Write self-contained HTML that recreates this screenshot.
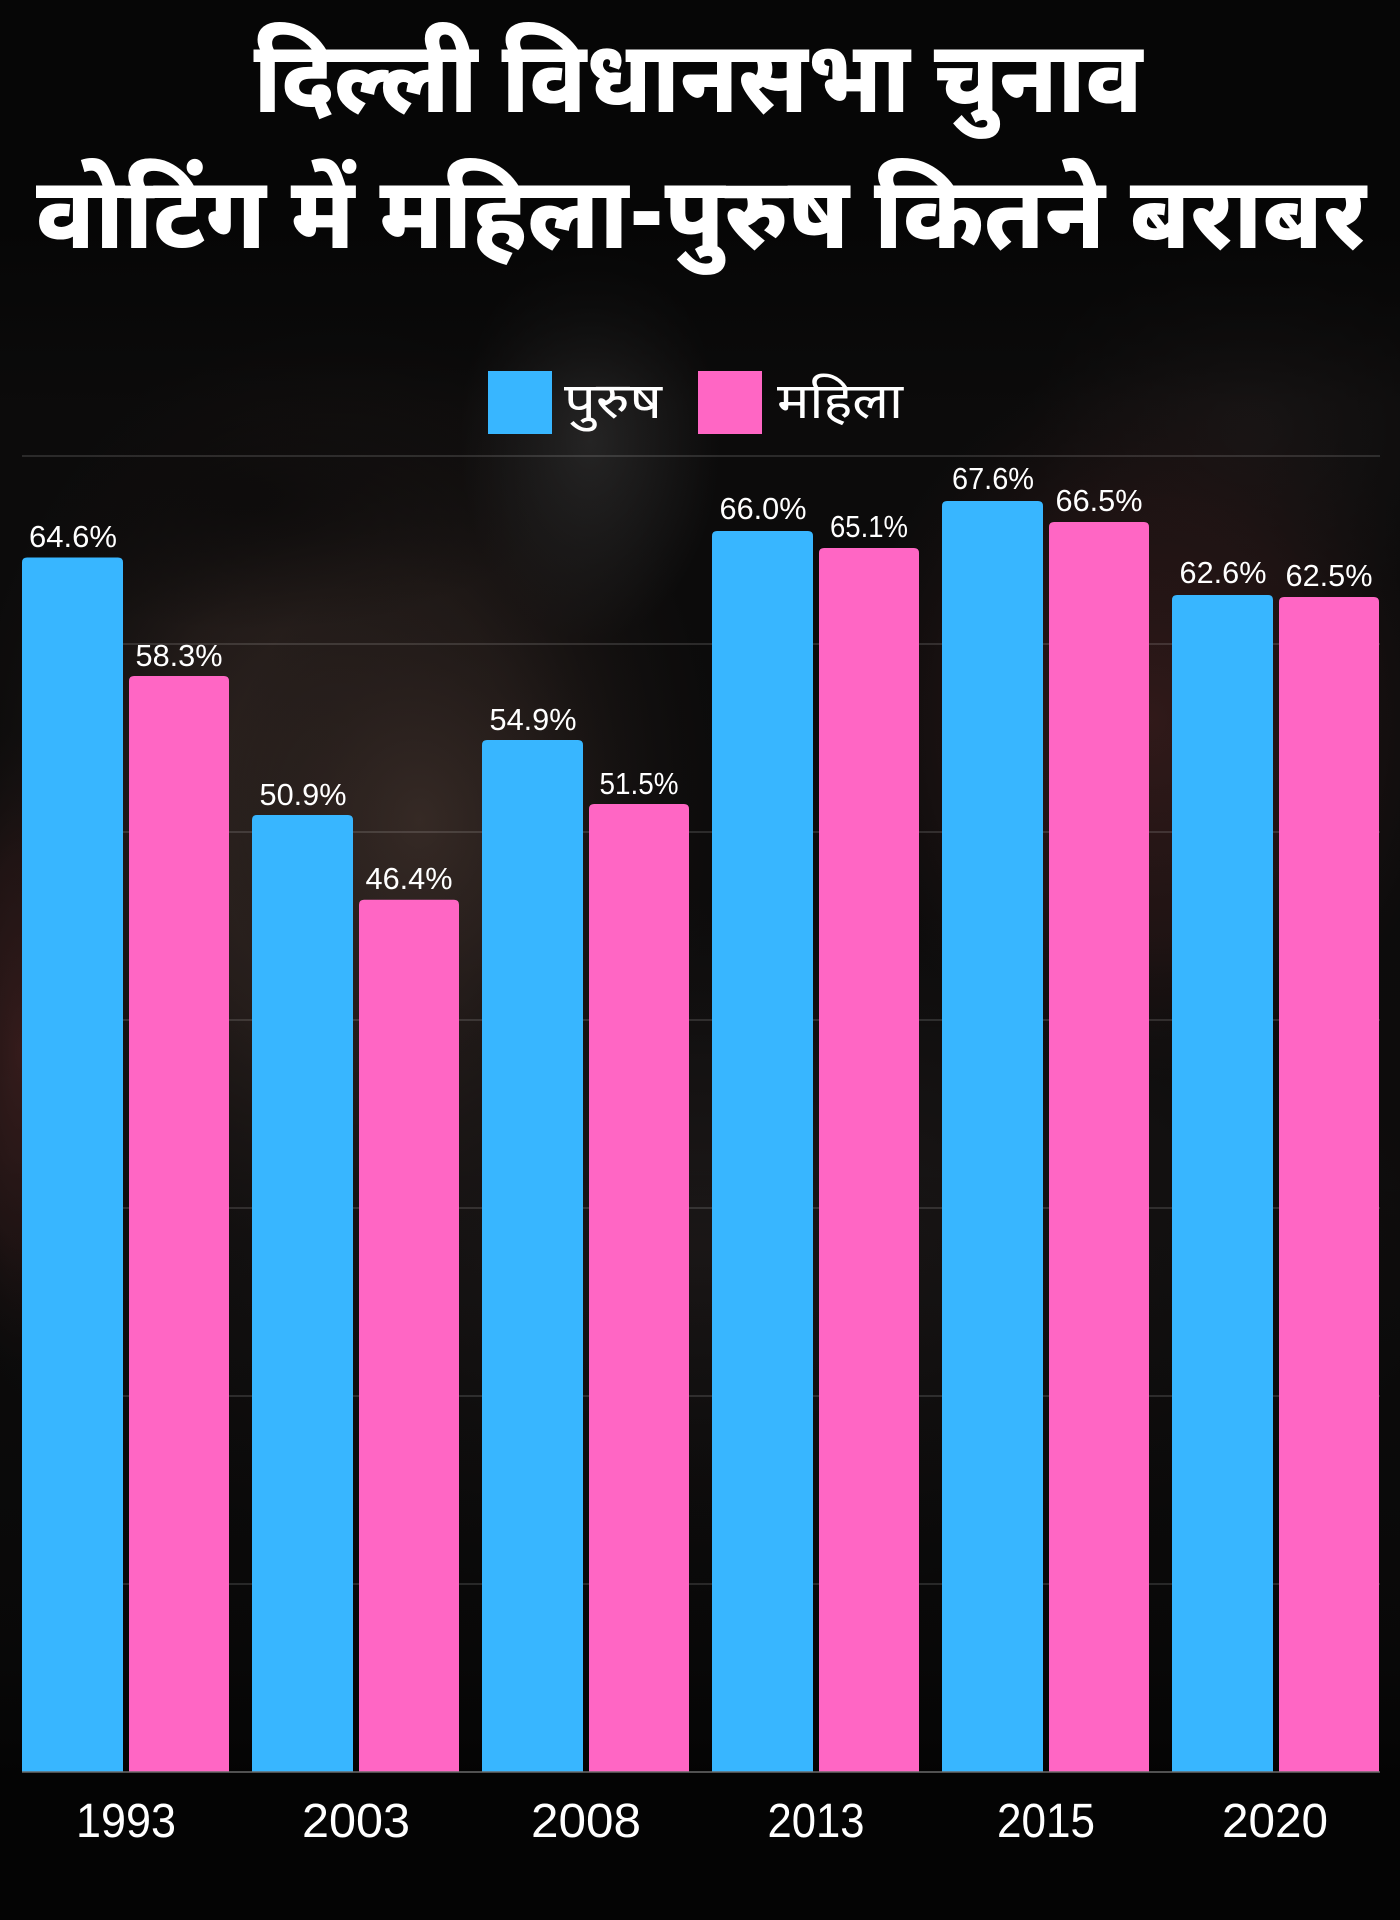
<!DOCTYPE html>
<html>
<head>
<meta charset="utf-8">
<style>
  html,body{margin:0;padding:0;background:#0a0a0a;}
  svg{display:block;}
  .t{font-family:"Noto Sans Devanagari","Lohit Devanagari","Mukta","Hind","Liberation Sans",sans-serif;}
  .n{font-family:"Liberation Sans","DejaVu Sans",sans-serif;}
</style>
</head>
<body>
<svg width="1400" height="1920" viewBox="0 0 1400 1920" xmlns="http://www.w3.org/2000/svg">
  <defs>
    <radialGradient id="gFace" cx="0.5" cy="0.5" r="0.5">
      <stop offset="0" stop-color="#3a2d28" stop-opacity="1"/>
      <stop offset="0.5" stop-color="#2c221f" stop-opacity="0.8"/>
      <stop offset="1" stop-color="#1a1514" stop-opacity="0"/>
    </radialGradient>
    <radialGradient id="gHair" cx="0.5" cy="0.5" r="0.5">
      <stop offset="0" stop-color="#0e0c0c" stop-opacity="0.9"/>
      <stop offset="1" stop-color="#0e0c0c" stop-opacity="0"/>
    </radialGradient>
    <radialGradient id="gGray" cx="0.5" cy="0.5" r="0.5">
      <stop offset="0" stop-color="#2c2b2b" stop-opacity="1"/>
      <stop offset="1" stop-color="#2c2b2b" stop-opacity="0"/>
    </radialGradient>
    <radialGradient id="gRed" cx="0.5" cy="0.5" r="0.5">
      <stop offset="0" stop-color="#361c1c" stop-opacity="1"/>
      <stop offset="0.6" stop-color="#2a1818" stop-opacity="0.7"/>
      <stop offset="1" stop-color="#1e1515" stop-opacity="0"/>
    </radialGradient>
    <radialGradient id="gDark" cx="0.5" cy="0.5" r="0.5">
      <stop offset="0" stop-color="#1c1818" stop-opacity="1"/>
      <stop offset="1" stop-color="#1c1818" stop-opacity="0"/>
    </radialGradient>
    <linearGradient id="fade" x1="0" y1="0" x2="0" y2="1">
      <stop offset="0" stop-color="#060606" stop-opacity="1"/>
      <stop offset="0.12" stop-color="#060606" stop-opacity="0.95"/>
      <stop offset="0.21" stop-color="#060606" stop-opacity="0.2"/>
      <stop offset="0.6" stop-color="#060606" stop-opacity="0"/>
      <stop offset="0.85" stop-color="#050505" stop-opacity="0.5"/>
      <stop offset="0.93" stop-color="#040404" stop-opacity="1"/>
      <stop offset="1" stop-color="#040404" stop-opacity="1"/>
    </linearGradient>
  </defs>

  <!-- background -->
  <rect width="1400" height="1920" fill="#0d0c0c"/>
  <ellipse cx="700" cy="1250" rx="750" ry="350" fill="url(#gDark)"/>
  <ellipse cx="1250" cy="430" rx="220" ry="200" fill="url(#gDark)"/>
  <ellipse cx="340" cy="800" rx="380" ry="480" fill="url(#gFace)"/>
  <ellipse cx="420" cy="820" rx="200" ry="260" fill="url(#gFace)"/>
  <ellipse cx="250" cy="500" rx="300" ry="130" fill="url(#gHair)"/>
  <ellipse cx="590" cy="440" rx="130" ry="200" fill="url(#gGray)"/>
  <ellipse cx="1150" cy="720" rx="300" ry="360" fill="url(#gRed)"/>
  <ellipse cx="20" cy="1050" rx="80" ry="320" fill="url(#gRed)"/>
  <rect width="1400" height="1920" fill="url(#fade)"/>

  <!-- title -->
  <text class="t" x="698" y="112" text-anchor="middle" font-size="100" font-weight="800" fill="#ffffff" textLength="889" lengthAdjust="spacingAndGlyphs">दिल्ली विधानसभा चुनाव</text>
  <text class="t" x="701" y="248" text-anchor="middle" font-size="100" font-weight="800" fill="#ffffff" textLength="1330" lengthAdjust="spacingAndGlyphs">वोटिंग में महिला-पुरुष कितने बराबर</text>

  <!-- legend -->
  <rect x="488" y="371" width="64" height="63" fill="#38B6FF"/>
  <text class="t" x="564" y="418" font-size="50" fill="#ffffff" textLength="98" lengthAdjust="spacingAndGlyphs">पुरुष</text>
  <rect x="698" y="371" width="64" height="63" fill="#FF66C4"/>
  <text class="t" x="777" y="418" font-size="50" fill="#ffffff" textLength="126" lengthAdjust="spacingAndGlyphs">महिला</text>

  <!-- gridlines -->
  <g stroke="#ffffff" stroke-opacity="0.13" stroke-width="2">
    <line x1="22" y1="456" x2="1380" y2="456"/>
    <line x1="22" y1="644" x2="1380" y2="644"/>
    <line x1="22" y1="832" x2="1380" y2="832"/>
    <line x1="22" y1="1020" x2="1380" y2="1020"/>
    <line x1="22" y1="1208" x2="1380" y2="1208"/>
    <line x1="22" y1="1396" x2="1380" y2="1396"/>
    <line x1="22" y1="1584" x2="1380" y2="1584"/>
  </g>

  <!-- bars: baseline 1772, 18.8px per % -->
  <g>
    <path d="M22 1772 V562.5 q0 -5 5 -5 H118 q5 0 5 5 V1772 Z" fill="#38B6FF"/>
    <path d="M129 1772 V681 q0 -5 5 -5 H224 q5 0 5 5 V1772 Z" fill="#FF66C4"/>
    <path d="M252 1772 V820 q0 -5 5 -5 H348 q5 0 5 5 V1772 Z" fill="#38B6FF"/>
    <path d="M359 1772 V904.7 q0 -5 5 -5 H454 q5 0 5 5 V1772 Z" fill="#FF66C4"/>
    <path d="M482 1772 V745 q0 -5 5 -5 H578 q5 0 5 5 V1772 Z" fill="#38B6FF"/>
    <path d="M589 1772 V809 q0 -5 5 -5 H684 q5 0 5 5 V1772 Z" fill="#FF66C4"/>
    <path d="M712 1772 V536 q0 -5 5 -5 H808 q5 0 5 5 V1772 Z" fill="#38B6FF"/>
    <path d="M819 1772 V553 q0 -5 5 -5 H914 q5 0 5 5 V1772 Z" fill="#FF66C4"/>
    <path d="M942 1772 V506 q0 -5 5 -5 H1038 q5 0 5 5 V1772 Z" fill="#38B6FF"/>
    <path d="M1049 1772 V527 q0 -5 5 -5 H1144 q5 0 5 5 V1772 Z" fill="#FF66C4"/>
    <path d="M1172 1772 V600 q0 -5 5 -5 H1268 q5 0 5 5 V1772 Z" fill="#38B6FF"/>
    <path d="M1279 1772 V602 q0 -5 5 -5 H1374 q5 0 5 5 V1772 Z" fill="#FF66C4"/>
  </g>
  <line x1="22" y1="1772" x2="1380" y2="1772" stroke="#6b6b6b" stroke-width="1.5"/>

  <!-- value labels -->
  <g class="n" font-size="31" fill="#ffffff" text-anchor="middle">
    <text x="73" y="547" textLength="88" lengthAdjust="spacingAndGlyphs">64.6%</text>
    <text x="179" y="666" textLength="87" lengthAdjust="spacingAndGlyphs">58.3%</text>
    <text x="303" y="805" textLength="87" lengthAdjust="spacingAndGlyphs">50.9%</text>
    <text x="409" y="889" textLength="87" lengthAdjust="spacingAndGlyphs">46.4%</text>
    <text x="533" y="730" textLength="87" lengthAdjust="spacingAndGlyphs">54.9%</text>
    <text x="639" y="794" textLength="79" lengthAdjust="spacingAndGlyphs">51.5%</text>
    <text x="763" y="519" textLength="87" lengthAdjust="spacingAndGlyphs">66.0%</text>
    <text x="869" y="537" textLength="78" lengthAdjust="spacingAndGlyphs">65.1%</text>
    <text x="993" y="489" textLength="82" lengthAdjust="spacingAndGlyphs">67.6%</text>
    <text x="1099" y="511" textLength="87" lengthAdjust="spacingAndGlyphs">66.5%</text>
    <text x="1223" y="583" textLength="87" lengthAdjust="spacingAndGlyphs">62.6%</text>
    <text x="1329" y="586" textLength="87" lengthAdjust="spacingAndGlyphs">62.5%</text>
  </g>

  <!-- x-axis labels -->
  <g class="n" font-size="48" fill="#ffffff" text-anchor="middle">
    <text x="126" y="1837" textLength="100" lengthAdjust="spacingAndGlyphs">1993</text>
    <text x="356" y="1837" textLength="108" lengthAdjust="spacingAndGlyphs">2003</text>
    <text x="586" y="1837" textLength="110" lengthAdjust="spacingAndGlyphs">2008</text>
    <text x="816" y="1837" textLength="97" lengthAdjust="spacingAndGlyphs">2013</text>
    <text x="1046" y="1837" textLength="98" lengthAdjust="spacingAndGlyphs">2015</text>
    <text x="1275" y="1837" textLength="106" lengthAdjust="spacingAndGlyphs">2020</text>
  </g>
</svg>
</body>
</html>
